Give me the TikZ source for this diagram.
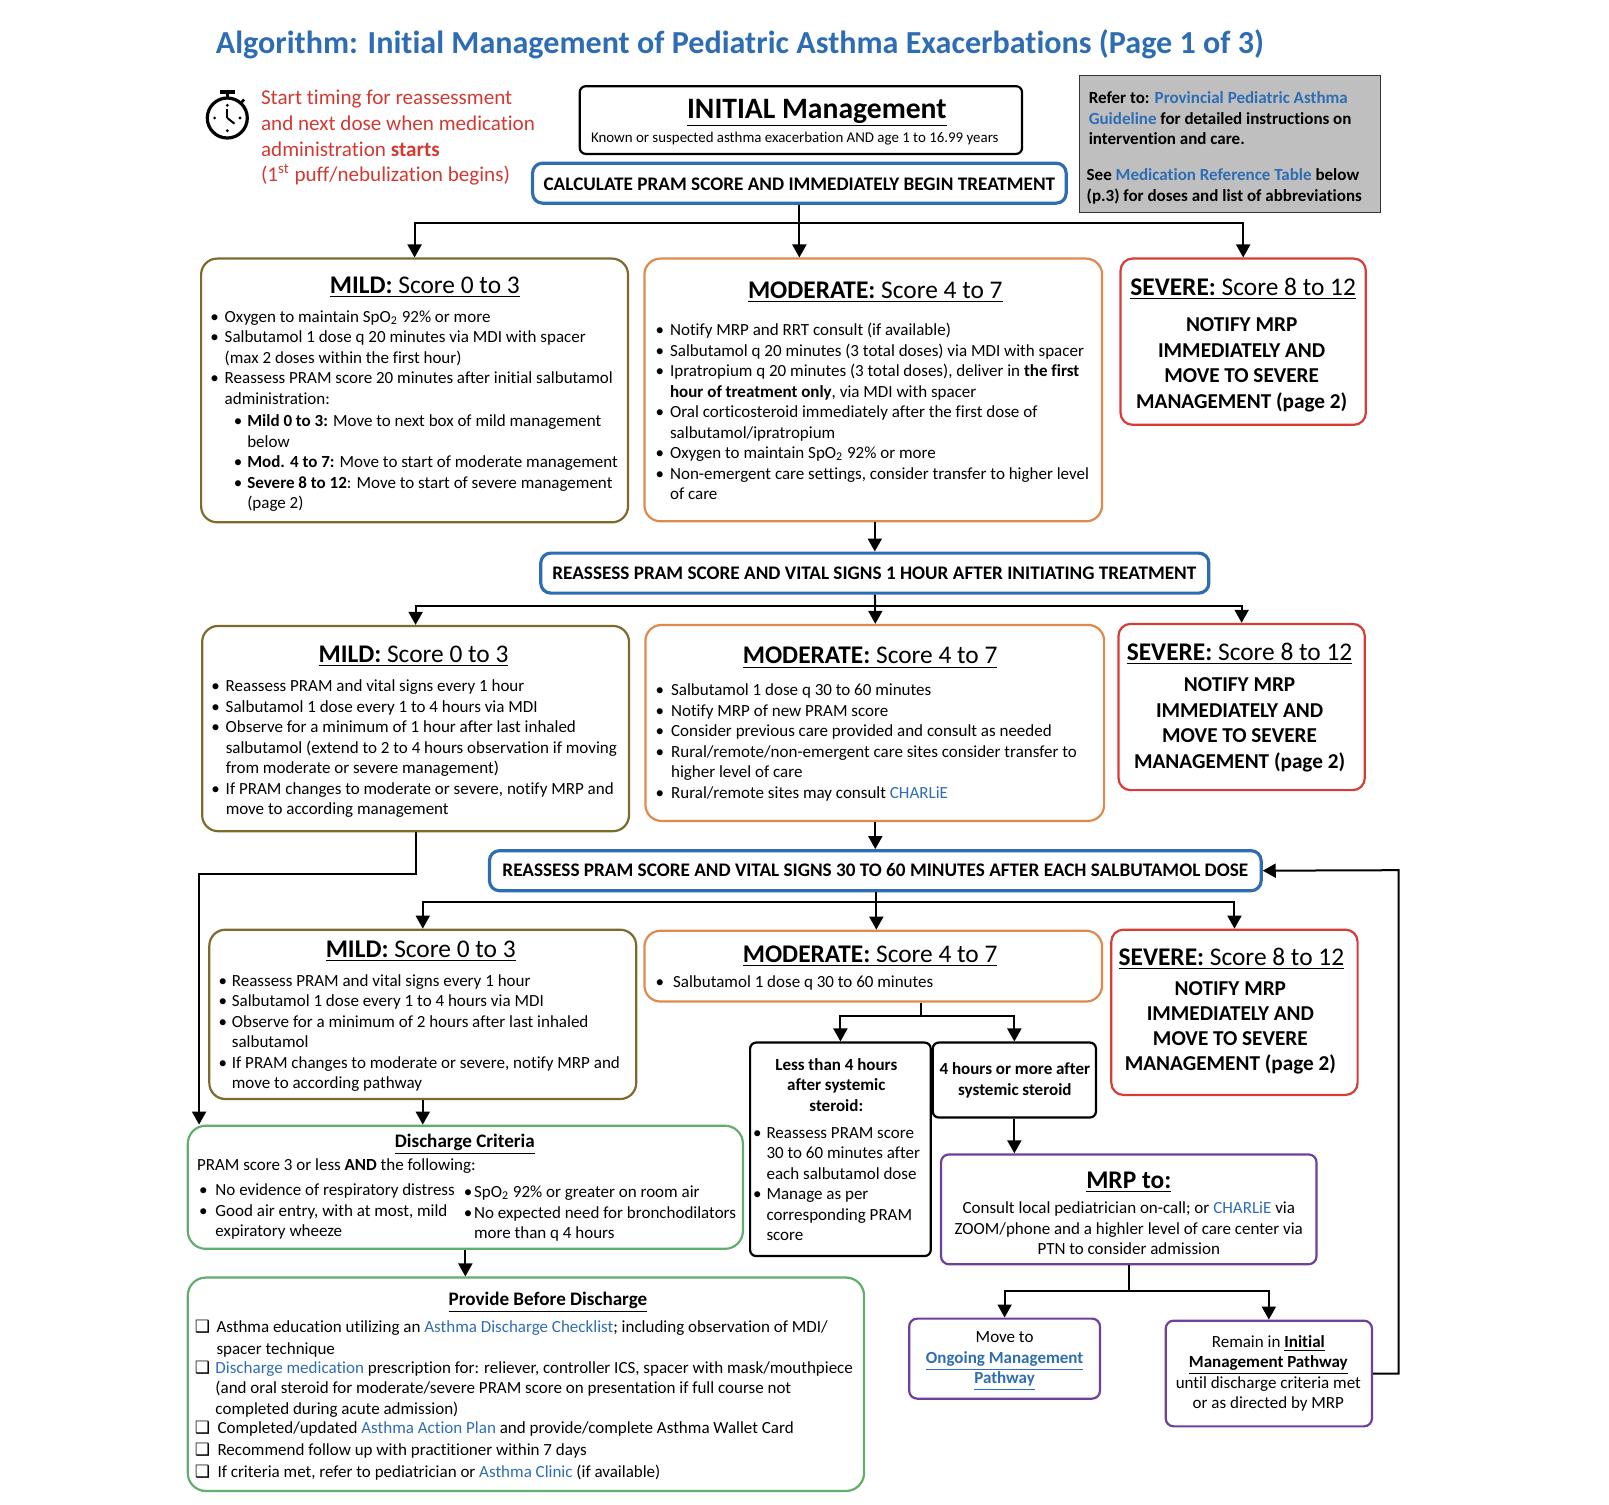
\documentclass[tikz,border=0pt]{standalone}
\usepackage{fontspec}
\usetikzlibrary{arrows.meta}
\setmainfont{Carlito}[Ligatures=NoCommon]
\newfontfamily\checkfont{DejaVu Sans}
\definecolor{linkblue}{HTML}{2E6DB4}
\definecolor{mildcol}{HTML}{7F6A2E}
\definecolor{modcol}{HTML}{DF8A4C}
\definecolor{sevcol}{HTML}{D83C36}
\definecolor{greencol}{HTML}{62AE6C}
\definecolor{purplecol}{HTML}{6F3F9C}
\definecolor{timercol}{HTML}{D03A32}
\definecolor{greyfill}{HTML}{BFBFBF}
\newlength{\ux}
\setlength{\ux}{0.513pt}
\newlength{\boxW}
\newlength{\boxH}
\newcommand{\BodyFont}{\fontsize{8.5}{10.26}\selectfont}
\newcommand{\HeadFont}{\fontsize{12.7}{14}\selectfont}
\newcommand{\CapsFont}{\fontsize{10.6}{14}\selectfont\bfseries}
\newcommand{\StepFont}{\fontsize{9.6}{11}\selectfont\bfseries}
\newcommand{\Lk}[1]{\textcolor{linkblue}{#1}}
\newcommand{\Tab}[1]{\hspace*{#1\ux}}
\newcommand{\Ctr}[2]{\hspace*{#1\ux}\makebox[0pt][c]{#2}}
\newcommand{\Bul}[2]{\hspace*{#1\ux}\makebox[#2\ux][l]{\textbullet}}
\newcommand{\Chk}[1]{\hspace*{7\ux}\makebox[#1\ux][l]{\checkfont ❑}}
\newcommand{\Sk}[1]{\\[#1\ux]}
\newcommand{\Score}[2]{\underline{\textbf{#1:} #2}}
\newcommand{\FlowBox}[8][]{%
\pgfmathsetlength{\boxW}{(#5-#3)*\ux}%
\pgfmathsetlength{\boxH}{(#6-#4)*\ux}%
\node[flowbox, #1] (#2) at ({(#3+#5)/2},{(#4+#6)/2})
{\parbox[c][\boxH][t]{\boxW}{\raggedright\leavevmode\rule{0pt}{#7\ux}#8}};}
\tikzset{
flowbox/.style={draw, inner sep=0pt, font=\BodyFont},
mildbox/.style={draw=mildcol, line width=1.1pt, rounded corners=8pt},
modbox/.style={draw=modcol, line width=1.1pt, rounded corners=8pt},
sevbox/.style={draw=sevcol, line width=1.1pt, rounded corners=6pt},
greenbox/.style={draw=greencol, line width=1.1pt, rounded corners=9pt},
purplebox/.style={draw=purplecol, line width=1.1pt, rounded corners=4pt},
stepbox/.style={draw=linkblue, line width=1.6pt, rounded corners=5pt},
plainbox/.style={draw=black, line width=1.1pt, rounded corners=3pt},
referbox/.style={draw=black!80, line width=0.5pt, fill=greyfill},
flow/.style={draw, line width=1pt, -{Triangle[length=6.5pt, width=7pt]}},
trunk/.style={draw, line width=1pt},
titletext/.style={inner sep=0pt, anchor=west, text=linkblue, font=\fontsize{16.05}{18}\selectfont\bfseries},
timernote/.style={inner sep=0pt, anchor=north west, align=left, text=timercol, font=\fontsize{10.56}{12.83}\selectfont},
}
\begin{document}
\begin{tikzpicture}[x=0.513pt, y=-0.513pt]
\useasboundingbox (0,0) rectangle (1568,1466);

\node[titletext] (title) at (210,43) {Algorithm: Initial Management of Pediatric Asthma Exacerbations (Page 1 of 3)};

\draw[line width=1.6pt] (221.5,115) circle (19.5);
\fill (214.5,88) rectangle (229,91.6);
\draw[line width=1.4pt] (221.5,91) -- (221.5,96);
\draw[line width=1.4pt] (234,101) -- (238,97);
\draw[line width=1pt] (221.5,115) -- (221.5,106);
\draw[line width=1pt] (221.5,115) -- (228.5,120.5);
\foreach \tick in {0,90,180,270}
\fill (221.5,115) ++(\tick:12.4) circle (1.5);

\node[timernote] (timing) at (254,87.5) {Start timing for reassessment\\and next dose when medication\\administration \textbf{starts}\\(1\textsuperscript{st} puff/nebulization begins)};

\FlowBox[plainbox]{initial}{565}{84}{996}{150}{31}{\Ctr{231}{\fontsize{14.8}{16}\selectfont\underline{\textbf{INITIAL Management}}}\Sk{4}
\Tab{11}{\fontsize{7.45}{9}\selectfont Known or suspected asthma exacerbation AND age 1 to 16.99 years}}

\FlowBox[stepbox]{calc}{519}{159}{1039}{198}{27}{\Ctr{260}{\StepFont CALCULATE PRAM SCORE AND IMMEDIATELY BEGIN TREATMENT}}

\FlowBox[referbox]{refer}{1052}{74}{1345}{207}{27}{\bfseries
\Tab{9}Refer to: \Lk{Provincial Pediatric Asthma}\\
\Tab{9}\Lk{Guideline} for detailed instructions on\\
\Tab{9}intervention and care.\Sk{15}
\Tab{7}See \Lk{Medication Reference Table} below\\
\Tab{7}(p.3) for doses and list of abbreviations}

\FlowBox[mildbox]{mildA}{196}{252}{612}{509}{34}{\Ctr{218}{\HeadFont\Score{MILD}{Score 0 to 3}}\Sk{8}
\Bul{9}{14}Oxygen to maintain SpO\textsubscript{2} 92\% or more\\
\Bul{9}{14}Salbutamol 1 dose q 20 minutes via MDI with spacer\\
\Tab{23}(max 2 doses within the first hour)\\
\Bul{9}{14}Reassess PRAM score 20 minutes after initial salbutamol\\
\Tab{23}administration:\Sk{2}
\Bul{32}{13}\textbf{Mild 0 to 3:} Move to next box of mild management\\
\Tab{45}below\\
\Bul{32}{13}\textbf{Mod. 4 to 7:} Move to start of moderate management\\
\Bul{32}{13}\textbf{Severe 8 to 12}: Move to start of severe management\\
\Tab{45}(page 2)}

\FlowBox[modbox]{modA}{628}{252}{1074}{508}{39}{\Ctr{225}{\HeadFont\Score{MODERATE}{Score 4 to 7}}\Sk{16}
\Bul{11}{14}Notify MRP and RRT consult (if available)\\
\Bul{11}{14}Salbutamol q 20 minutes (3 total doses) via MDI with spacer\\
\Bul{11}{14}Ipratropium q 20 minutes (3 total doses), deliver in \textbf{the first}\\
\Tab{25}\textbf{hour of treatment only}, via MDI with spacer\\
\Bul{11}{14}Oral corticosteroid immediately after the first dose of\\
\Tab{25}salbutamol/ipratropium\\
\Bul{11}{14}Oxygen to maintain SpO\textsubscript{2} 92\% or more\\
\Bul{11}{14}Non-emergent care settings, consider transfer to higher level\\
\Tab{25}of care}

\FlowBox[sevbox]{sevA}{1092}{252}{1331}{414}{36}{\Ctr{119.5}{\HeadFont\Score{SEVERE}{Score 8 to 12}}\Sk{15}
\Ctr{118}{\CapsFont NOTIFY MRP}\Sk{5}
\Ctr{118}{\CapsFont IMMEDIATELY AND}\Sk{5}
\Ctr{118}{\CapsFont MOVE TO SEVERE}\Sk{5}
\Ctr{118}{\CapsFont MANAGEMENT (page 2)}}

\FlowBox[stepbox]{reassA}{527}{539}{1178}{578}{25.5}{\Ctr{325}{\StepFont REASSESS PRAM SCORE AND VITAL SIGNS 1 HOUR AFTER INITIATING TREATMENT}}

\FlowBox[mildbox]{mildB}{197}{610}{613}{810}{36}{\Ctr{206}{\HeadFont\Score{MILD}{Score 0 to 3}}\Sk{8}
\Bul{9}{14}Reassess PRAM and vital signs every 1 hour\\
\Bul{9}{14}Salbutamol 1 dose every 1 to 4 hours via MDI\\
\Bul{9}{14}Observe for a minimum of 1 hour after last inhaled\\
\Tab{23}salbutamol (extend to 2 to 4 hours observation if moving\\
\Tab{23}from moderate or severe management)\\
\Bul{9}{14}If PRAM changes to moderate or severe, notify MRP and\\
\Tab{23}move to according management}

\FlowBox[modbox]{modB}{629}{609}{1076}{800}{38}{\Ctr{219}{\HeadFont\Score{MODERATE}{Score 4 to 7}}\Sk{11}
\Bul{10}{15}Salbutamol 1 dose q 30 to 60 minutes\\
\Bul{10}{15}Notify MRP of new PRAM score\\
\Bul{10}{15}Consider previous care provided and consult as needed\\
\Bul{10}{15}Rural/remote/non-emergent care sites consider transfer to\\
\Tab{25}higher level of care\\
\Bul{10}{15}Rural/remote sites may consult \Lk{CHARLiE}}

\FlowBox[sevbox]{sevB}{1090}{608}{1330}{770}{36}{\Ctr{118}{\HeadFont\Score{SEVERE}{Score 8 to 12}}\Sk{10}
\Ctr{118}{\CapsFont NOTIFY MRP}\Sk{5}
\Ctr{118}{\CapsFont IMMEDIATELY AND}\Sk{5}
\Ctr{118}{\CapsFont MOVE TO SEVERE}\Sk{5}
\Ctr{118}{\CapsFont MANAGEMENT (page 2)}}

\FlowBox[stepbox]{reassB}{477}{829}{1229}{868}{25}{\Ctr{376}{\StepFont REASSESS PRAM SCORE AND VITAL SIGNS 30 TO 60 MINUTES AFTER EACH SALBUTAMOL DOSE}}

\FlowBox[mildbox]{mildC}{204}{906}{620}{1071}{27}{\Ctr{206}{\HeadFont\Score{MILD}{Score 0 to 3}}\Sk{8}
\Bul{9}{13}Reassess PRAM and vital signs every 1 hour\\
\Bul{9}{13}Salbutamol 1 dose every 1 to 4 hours via MDI\\
\Bul{9}{13}Observe for a minimum of 2 hours after last inhaled\\
\Tab{22}salbutamol\\
\Bul{9}{13}If PRAM changes to moderate or severe, notify MRP and\\
\Tab{22}move to according pathway}

\FlowBox[modbox]{modC}{628}{907}{1074}{976}{31}{\Ctr{220}{\HeadFont\Score{MODERATE}{Score 4 to 7}}\Sk{4}
\Bul{11}{17}Salbutamol 1 dose q 30 to 60 minutes}

\FlowBox[sevbox]{sevC}{1083}{906}{1323}{1067}{35}{\Ctr{117}{\HeadFont\Score{SEVERE}{Score 8 to 12}}\Sk{9}
\Ctr{116}{\CapsFont NOTIFY MRP}\Sk{4.5}
\Ctr{116}{\CapsFont IMMEDIATELY AND}\Sk{4.5}
\Ctr{116}{\CapsFont MOVE TO SEVERE}\Sk{4.5}
\Ctr{116}{\CapsFont MANAGEMENT (page 2)}}

\FlowBox[plainbox]{lessB}{731}{1016}{907}{1224}{27}{\Ctr{84}{\textbf{Less than 4 hours}}\\
\Ctr{84}{\textbf{after systemic}}\\
\Ctr{84}{\textbf{steroid:}}\Sk{6}
\Bul{3}{13}Reassess PRAM score\\
\Tab{16}30 to 60 minutes after\\
\Tab{16}each salbutamol dose\\
\Bul{3}{13}Manage as per\\
\Tab{16}corresponding PRAM\\
\Tab{16}score}

\FlowBox[plainbox]{fourB}{909}{1016}{1068}{1089}{31.5}{\Ctr{80}{\textbf{4 hours or more after}}\\
\Ctr{80}{\textbf{systemic steroid}}}

\FlowBox[purplebox]{mrp}{917}{1125}{1283}{1232}{33}{\Ctr{183}{\HeadFont\underline{\textbf{MRP to:}}}\Sk{5}
\Ctr{183}{Consult local pediatrician on-call; or \Lk{CHARLiE} via}\\
\Ctr{183}{ZOOM/phone and a highler level of care center via}\\
\Ctr{183}{PTN to consider admission}}

\FlowBox[purplebox]{moveB}{886}{1285}{1072}{1363}{23.5}{\Ctr{93}{Move to}\\
\Ctr{93}{\Lk{\underline{\textbf{Ongoing Management}}}}\\
\Ctr{93}{\Lk{\underline{\textbf{Pathway}}}}}

\FlowBox[purplebox]{remain}{1136}{1287}{1337}{1390}{26}{\Ctr{100}{Remain in \underline{\textbf{Initial}}}\\
\Ctr{100}{\underline{\textbf{Management Pathway}}}\\
\Ctr{100}{until discharge criteria met}\\
\Ctr{100}{or as directed by MRP}}

\FlowBox[greenbox]{dis}{183}{1097}{724}{1217}{21}{\Ctr{270}{\fontsize{9.55}{11}\selectfont\underline{\textbf{Discharge Criteria}}}\Sk{3}
\Tab{9}PRAM score 3 or less \textbf{AND} the following:\Sk{4}
\parbox[t]{266\ux}{\raggedright\Bul{11}{16}No evidence of respiratory distress\\
\Bul{11}{16}Good air entry, with at most, mild\\
\Tab{27}expiratory wheeze}%
\raisebox{-2\ux}{\parbox[t]{270\ux}{\raggedright\Bul{3}{10}SpO\textsubscript{2} 92\% or greater on room air\\
\Bul{3}{10}No expected need for bronchodilators\\
\Tab{13}more than q 4 hours}}}

\FlowBox[greenbox]{prov}{183}{1245}{842}{1453}{27}{\Ctr{351}{\fontsize{9.55}{11}\selectfont\underline{\textbf{Provide Before Discharge}}}\Sk{7}
\Chk{21}Asthma education utilizing an \Lk{Asthma Discharge Checklist}; including observation of MDI/\Sk{1}
\Tab{28}spacer technique\Sk{-2}
\Chk{20}\Lk{Discharge medication} prescription for: reliever, controller ICS, spacer with mask/mouthpiece\\
\Tab{27}(and oral steroid for moderate/severe PRAM score on presentation if full course not\\
\Tab{27}completed during acute admission)\Sk{-1}
\Chk{22}Completed/updated \Lk{Asthma Action Plan} and provide/complete Asthma Wallet Card\Sk{1}
\Chk{22}Recommend follow up with practitioner within 7 days\Sk{2}
\Chk{22}If criteria met, refer to pediatrician or \Lk{Asthma Clinic} (if available)}

\coordinate (busA) at (779,217);
\coordinate (busB) at (853,591);
\coordinate (busC) at (854,879);
\coordinate (turnA) at (194,852);
\coordinate (splitC) at (898,990);
\coordinate (splitD) at (1100,1258);
\coordinate (loopC) at (1363,848);

\draw[trunk] (calc.south) -- (busA);
\draw[flow] (busA) -- (busA |- modA.north);
\draw[flow] (busA) -| (mildA.north);
\draw[flow] (busA) -| (sevA.north);
\draw[flow] (reassA.north |- modA.south) -- (reassA.north);
\draw[trunk] (reassA.south) -- (busB);
\draw[flow] (busB) -- (busB |- modB.north);
\draw[flow] (busB) -| (mildB.north);
\draw[flow] (busB) -| (sevB.north);
\draw[flow] (reassB.north |- modB.south) -- (reassB.north);
\draw[trunk] (busC |- reassB.south) -- (busC);
\draw[flow] (busC) -- (busC |- modC.north);
\draw[flow] (busC) -| (mildC.north);
\draw[flow] (busC) -| (sevC.north);
\draw[flow] (mildB.south) |- (turnA) -- (turnA |- dis.north);
\draw[flow] (mildC.south) -- (mildC.south |- dis.north);
\draw[flow] (dis.south) -- (dis.south |- prov.north);
\draw[trunk] (splitC |- modC.south) -- (splitC);
\draw[flow] (splitC) -| (lessB.north);
\draw[flow] (splitC) -| (fourB.north);
\draw[flow] (fourB.south) -- (fourB.south |- mrp.north);
\draw[trunk] (mrp.south) -- (splitD);
\draw[flow] (splitD) -| (moveB.north);
\draw[flow] (splitD) -| (remain.north);
\draw[flow] (remain.east) -| (loopC) -- (reassB.east);
\end{tikzpicture}
\end{document}
